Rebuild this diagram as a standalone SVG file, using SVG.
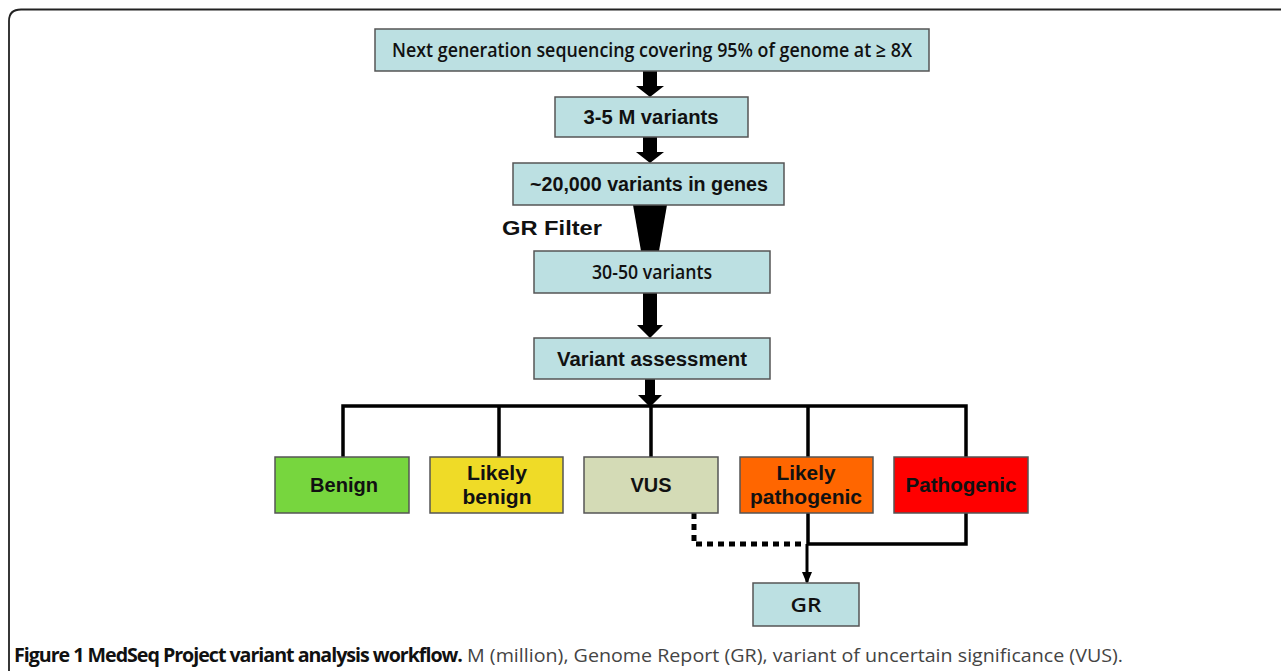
<svg xmlns="http://www.w3.org/2000/svg" width="1281" height="671" viewBox="0 0 1281 671">
<style>
.box{stroke:#555;stroke-width:1.5}
.blue{fill:#bce0e2}
.t{font-family:"Liberation Sans",Arial,sans-serif;font-weight:bold;font-size:20px;fill:#111;text-anchor:middle}
.c{font-family:"Open Sans","Liberation Sans",sans-serif;font-weight:600;font-size:20px;fill:#111;text-anchor:middle}
.ln{stroke:#000;stroke-width:3.5;fill:none}
</style>
<defs>
<marker id="ah" markerWidth="12" markerHeight="10" refX="10" refY="5" orient="auto" markerUnits="userSpaceOnUse">
<path d="M0,0 L12,5 L0,10 z" fill="#000"/>
</marker>
</defs>
<rect width="1281" height="671" fill="#fff"/>
<path d="M9,671 V21 Q9,9.5 21,9.5 H1281" fill="none" stroke="#222" stroke-width="1.8"/>

<g id="connectors">
<path d="M643,71 V86 H636 L650,97 L664,86 H657 V71 z" fill="#000"/>
<path d="M643,137 V152 H636 L650,163 L664,152 H657 V137 z" fill="#000"/>
<path d="M633,205 L667,205 L659,251 L641,251 z" fill="#000"/>
<path d="M643,293 V325 H637 L650,338 L663,325 H657 V293 z" fill="#000"/>
<path d="M645,379 V395 H638 L650,407 L662,395 H655 V379 z" fill="#000"/>
<path class="ln" d="M343,457 V406 H966 V457"/>
<path class="ln" d="M499,406 V457 M651,406 V457 M808,406 V457"/>
<path class="ln" d="M808,513 V544 H966 V513"/>
<path d="M694,513 V544 H806" fill="none" stroke="#000" stroke-width="5" stroke-dasharray="6,5"/>
<path d="M807,544 V582" stroke="#000" stroke-width="3" marker-end="url(#ah)"/>
</g>

<g id="n1"><rect class="box blue" x="375" y="29" width="554" height="42"/><text class="c" x="652" y="57" textLength="520" lengthAdjust="spacingAndGlyphs">Next generation sequencing covering 95% of genome at ≥ 8X</text></g>
<g id="n2"><rect class="box blue" x="555" y="97" width="193" height="40"/><text class="t" x="651" y="124" textLength="135" lengthAdjust="spacingAndGlyphs">3-5 M variants</text></g>
<g id="n3"><rect class="box blue" x="513" y="163" width="271" height="42"/><text class="t" x="649" y="191" textLength="238" lengthAdjust="spacingAndGlyphs">~20,000 variants in genes</text></g>
<g id="lbl"><text class="t" x="552" y="235" textLength="100" lengthAdjust="spacingAndGlyphs">GR Filter</text></g>
<g id="n4"><rect class="box blue" x="534" y="251" width="236" height="42"/><text class="c" x="652" y="279" textLength="120" lengthAdjust="spacingAndGlyphs">30-50 variants</text></g>
<g id="n5"><rect class="box blue" x="534" y="338" width="236" height="41"/><text class="t" x="652" y="366" textLength="190" lengthAdjust="spacingAndGlyphs">Variant assessment</text></g>

<g id="benign"><rect class="box" fill="#77d63e" x="275" y="457" width="134" height="56"/><text class="t" x="344" y="492" textLength="68" lengthAdjust="spacingAndGlyphs">Benign</text></g>
<g id="likelybenign"><rect class="box" fill="#efdb27" x="430" y="457" width="133" height="56"/><text class="t" x="497" y="480" textLength="60" lengthAdjust="spacingAndGlyphs">Likely</text><text class="t" x="497" y="504" textLength="69" lengthAdjust="spacingAndGlyphs">benign</text></g>
<g id="vus"><rect class="box" fill="#d4dbb6" x="584" y="457" width="134" height="56"/><text class="t" x="651" y="492" textLength="41" lengthAdjust="spacingAndGlyphs">VUS</text></g>
<g id="likelypath"><rect class="box" fill="#ff6600" x="740" y="457" width="133" height="56"/><text class="t" x="806" y="480" textLength="59" lengthAdjust="spacingAndGlyphs">Likely</text><text class="t" x="806" y="504" textLength="112" lengthAdjust="spacingAndGlyphs">pathogenic</text></g>
<g id="path"><rect class="box" fill="#ff0000" x="894" y="457" width="134" height="56"/><text class="t" x="961" y="492" textLength="111" lengthAdjust="spacingAndGlyphs">Pathogenic</text></g>
<g id="gr"><rect class="box blue" x="753" y="583" width="106" height="43"/><text class="c" x="806" y="612" textLength="31" lengthAdjust="spacingAndGlyphs">GR</text></g>

<g id="caption" font-family="'Open Sans','Liberation Sans',sans-serif" font-size="19">
<text x="14" y="662" fill="#111" textLength="1109" lengthAdjust="spacingAndGlyphs"><tspan font-weight="bold" letter-spacing="-1">Figure 1 MedSeq Project variant analysis workflow.</tspan><tspan fill="#444"> M (million), Genome Report (GR), variant of uncertain significance (VUS).</tspan></text>
</g>
</svg>
